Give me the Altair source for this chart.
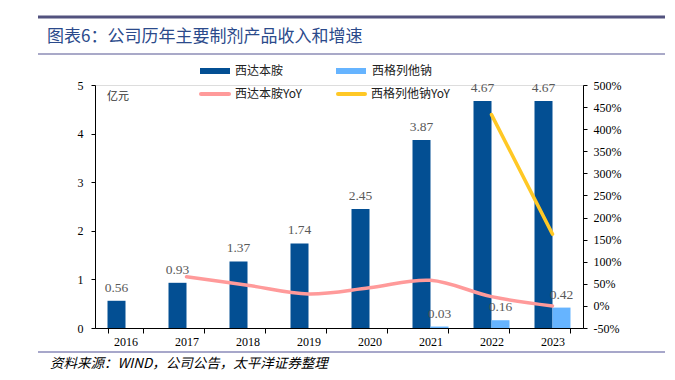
import altair as alt
import pandas as pd

years = ["2016", "2017", "2018", "2019", "2020", "2021", "2022", "2023"]
series_names = ["西达本胺", "西格列他钠"]
yoy_names = ["西达本胺YoY", "西格列他钠YoY"]
xidaben = [0.56, 0.93, 1.37, 1.74, 2.45, 3.87, 4.67, 4.67]
xigelie = [None, None, None, None, None, 0.03, 0.16, 0.42]
xidaben_yoy = [None, 66, 47, 27, 41, 58, 21, 0]
xigelie_yoy = [None, None, None, None, None, None, 433, 162.5]
left_ticks = [0, 1, 2, 3, 4, 5]
right_ticks = [-50, 0, 50, 100, 150, 200, 250, 300, 350, 400, 450, 500]

bar_colors = ["#034F93", "#66B4FF"]
line_colors = ["#FF9A9A", "#FFC825"]

rows = []
for i, y in enumerate(years):
    for s, vals in zip(series_names, [xidaben, xigelie]):
        if vals[i] is not None:
            rows.append({"year": y, "series": s, "value": vals[i]})
bars_df = pd.DataFrame(rows)

lrows = []
for i, y in enumerate(years):
    for s, vals in zip(yoy_names, [xidaben_yoy, xigelie_yoy]):
        if vals[i] is not None:
            lrows.append({"year": y, "yseries": s, "yoy": vals[i]})
lines_df = pd.DataFrame(lrows)

serif = "Liberation Serif"
cjk = "Noto Sans CJK SC"

x_enc = alt.X("year:N", sort=years, title=None,
              scale=alt.Scale(paddingInner=0.41, paddingOuter=0.205),
              axis=alt.Axis(labelAngle=0, labelFont=serif, labelFontSize=12, labelColor="#000",
                            domainColor="#000", tickColor="#000", tickSize=5, labelPadding=3,
                            tickBand="extent", grid=False))
xoff = alt.XOffset("series:N", scale=alt.Scale(domain=series_names, paddingInner=0, paddingOuter=0))

y_left = alt.Y("value:Q", title=None,
               scale=alt.Scale(domain=[0, 5], nice=False),
               axis=alt.Axis(orient="left", values=left_ticks, labelFont=serif, labelFontSize=12,
                             labelColor="#000", domainColor="#000", tickColor="#000", tickSize=4,
                             labelPadding=8, grid=False))

base = alt.Chart(bars_df)
bars = base.mark_bar().encode(
    x=x_enc, xOffset=xoff, y=y_left,
    fill=alt.Fill("series:N", scale=alt.Scale(domain=series_names, range=bar_colors), legend=None),
)
labels = base.mark_text(font=serif, fontSize=13.5, color="#595959", dy=-13, baseline="middle").encode(
    x=x_enc, xOffset=xoff, y=y_left, text=alt.Text("value:Q", format=".2f"),
)
bar_layer = alt.layer(bars, labels)

lines = alt.Chart(lines_df).mark_line(strokeWidth=3.5, interpolate="catmull-rom", strokeCap="round").encode(
    x=x_enc,
    y=alt.Y("yoy:Q", title=None, scale=alt.Scale(domain=[-50, 500], nice=False),
            axis=alt.Axis(orient="right", values=right_ticks, labelExpr="datum.value + '%'",
                          labelFont=serif, labelFontSize=12, labelColor="#000",
                          domainColor="#000", tickColor="#000", tickSize=4, labelPadding=6, grid=False)),
    stroke=alt.Stroke("yseries:N", scale=alt.Scale(domain=yoy_names, range=line_colors), legend=None),
)

one = pd.DataFrame({"a": [0]})
def rule(x1, x2, y, color, w):
    return alt.Chart(one).mark_rule(color=color, strokeWidth=w).encode(
        x=alt.value(x1), x2=alt.value(x2), y=alt.value(y))

def txt(t, x, y, size, color="#000", font=cjk, **kw):
    return alt.Chart(one).mark_text(text=t, font=font, fontSize=size, color=color,
                                    align="left", baseline="middle", **kw).encode(
        x=alt.value(x), y=alt.value(y))

decor = [
    rule(-57, 570, -68, "#52527E", 3),
    txt("图表6：公司历年主要制剂产品收入和增速", -48, -48, 17, color="#2B4A8B"),
    rule(-57, 570, -31, "#A9A9C8", 2),
    alt.Chart(one).mark_rect(color=bar_colors[0]).encode(
        x=alt.value(105), x2=alt.value(135), y=alt.value(-17), y2=alt.value(-11)),
    txt(series_names[0], 140, -14, 12, color="#222"),
    alt.Chart(one).mark_rect(color=bar_colors[1]).encode(
        x=alt.value(241), x2=alt.value(271), y=alt.value(-17), y2=alt.value(-11)),
    txt(series_names[1], 277, -14, 12, color="#222"),
    alt.Chart(one).mark_rule(color=line_colors[0], strokeWidth=4, strokeCap="round").encode(
        x=alt.value(106), x2=alt.value(134), y=alt.value(9)),
    txt(yoy_names[0], 140, 9, 12, color="#222"),
    alt.Chart(one).mark_rule(color=line_colors[1], strokeWidth=4, strokeCap="round").encode(
        x=alt.value(243), x2=alt.value(270), y=alt.value(9)),
    txt(yoy_names[1], 276, 9, 12, color="#222"),
    txt("亿元", 12, 12, 11, color="#333"),
    rule(-57, 570, 267, "#8A8AB8", 1.5),
    txt("资料来源：WIND，公司公告，太平洋证券整理", -45, 279, 13.5, color="#000", fontStyle="italic"),
]

chart = alt.layer(bar_layer, lines, *decor).resolve_scale(y="independent").properties(
    width=488, height=243,
    autosize=alt.AutoSizeParams(type="none"),
    padding={"left": 87, "top": 77, "right": 84, "bottom": 44},
).configure_view(stroke=None).configure(background="white")

chart.save("out.html", embed_options={"renderer": "svg", "actions": False})
